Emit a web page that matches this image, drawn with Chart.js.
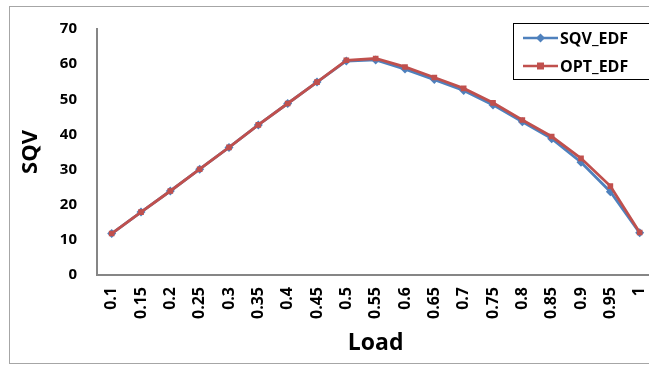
<!DOCTYPE html>
<html>
<head>
<meta charset="utf-8">
<script src="https://cdn.jsdelivr.net/npm/chart.js@4.4.1/dist/chart.umd.min.js"></script>
<style>
  html, body { margin: 0; padding: 0; background: #fff; overflow: hidden; }
  #frame { position: absolute; left: 9px; top: 6px; width: 700px; height: 356px; border: 1px solid #a6a6a6; }
  #myChart { position: absolute; left: 0; top: 0; }
</style>
</head>
<body>
<div id="frame"></div>
<canvas id="myChart" width="671" height="365"></canvas>
<script>
const loads = ['0.1', '0.15', '0.2', '0.25', '0.3', '0.35', '0.4', '0.45', '0.5', '0.55',
               '0.6', '0.65', '0.7', '0.75', '0.8', '0.85', '0.9', '0.95', '1'];
const sqvEdf = [11.8, 17.9, 23.9, 30.1, 36.3, 42.7, 48.8, 54.9, 60.9, 61.2,
                58.6, 55.6, 52.5, 48.4, 43.6, 38.8, 32.1, 23.7, 12.0];
const optEdf = [11.8, 17.9, 23.9, 30.1, 36.3, 42.7, 48.8, 54.9, 61.1, 61.6,
                59.2, 56.2, 53.1, 49.0, 44.1, 39.4, 33.2, 25.3, 12.1];
const yTicks = [0, 10, 20, 30, 40, 50, 60, 70];

const FONT = '"Open Sans", Lato, sans-serif';

// legend box drawn inside the plot, top right, with a black frame
const boxLegend = {
    id: 'boxLegend',
    afterDraw(chart) {
        const ctx = chart.ctx;
        const x = 513, y = 23, w = 140, h = 56;
        ctx.save();
        ctx.fillStyle = '#fff';
        ctx.fillRect(x, y, w, h);
        ctx.strokeStyle = '#000';
        ctx.lineWidth = 1;
        ctx.strokeRect(x + 0.5, y + 0.5, w, h);
        chart.data.datasets.forEach((ds, i) => {
            const ly = y + 15 + i * 28;
            ctx.strokeStyle = ds.borderColor;
            ctx.lineWidth = 2.5;
            ctx.beginPath();
            ctx.moveTo(523, ly);
            ctx.lineTo(558, ly);
            ctx.stroke();
            ctx.fillStyle = ds.borderColor;
            ctx.beginPath();
            if (ds.pointStyle === 'rectRot') {
                ctx.moveTo(540.5, ly - 4.5);
                ctx.lineTo(545, ly);
                ctx.lineTo(540.5, ly + 4.5);
                ctx.lineTo(536, ly);
            } else {
                ctx.rect(537, ly - 3.5, 7, 7);
            }
            ctx.closePath();
            ctx.fill();
            ctx.fillStyle = '#000';
            ctx.font = 'bold 16px ' + FONT;
            ctx.textBaseline = 'middle';
            ctx.fillText(ds.label, 560, ly + 1);
        });
        ctx.restore();
    }
};

const data = {
    labels: loads,
    datasets: [{
        label: 'SQV_EDF',
        data: sqvEdf,
        borderColor: '#4F81BD',
        backgroundColor: '#4F81BD',
        borderWidth: 2.8,
        pointStyle: 'rectRot',
        pointRadius: 4.5,
        pointBorderWidth: 0,
        order: 1,
    }, {
        label: 'OPT_EDF',
        data: optEdf,
        borderColor: '#C0504D',
        backgroundColor: '#C0504D',
        borderWidth: 2.8,
        pointStyle: 'rect',
        pointRadius: 4,
        pointBorderWidth: 0,
        order: 0,
    }],
};

const config = {
    type: 'line',
    data: data,
    plugins: [boxLegend],
    options: {
        responsive: false,
        animation: false,
        layout: { padding: { left: 0, top: 21, right: 0, bottom: 0 } },
        plugins: {
            legend: { display: false },
            tooltip: { enabled: false },
        },
        scales: {
            x: {
                offset: true,
                grid: { display: false, drawTicks: false },
                border: { display: true, color: '#868686', width: 2 },
                ticks: {
                    color: '#000',
                    font: { family: FONT, size: 16, weight: 'bold' },
                    minRotation: 90,
                    maxRotation: 90,
                    autoSkip: false,
                    padding: 12,
                },
                title: {
                    display: true,
                    text: 'Load',
                    color: '#000',
                    font: { family: FONT, size: 23, weight: 'bold' },
                    padding: { top: 0, bottom: 8 },
                },
                afterFit(scale) { scale.height = 90; },
            },
            y: {
                min: 0,
                max: 70,
                afterBuildTicks(scale) { scale.ticks = yTicks.map(v => ({ value: v })); },
                grid: { display: false, drawTicks: false },
                border: { display: true, color: '#868686', width: 2 },
                ticks: {
                    color: '#000',
                    font: { family: FONT, size: 15, weight: 'bold' },
                    padding: 20,
                },
                title: {
                    display: true,
                    text: 'SQV',
                    color: '#000',
                    font: { family: FONT, size: 22, weight: 'bold' },
                    padding: { top: 18, bottom: 0 },
                },
                afterFit(scale) { scale.width = 97; },
            },
        },
    },
};

const ctx = document.getElementById('myChart').getContext('2d');
const myChart = new Chart(ctx, config);
</script>
</body>
</html>
